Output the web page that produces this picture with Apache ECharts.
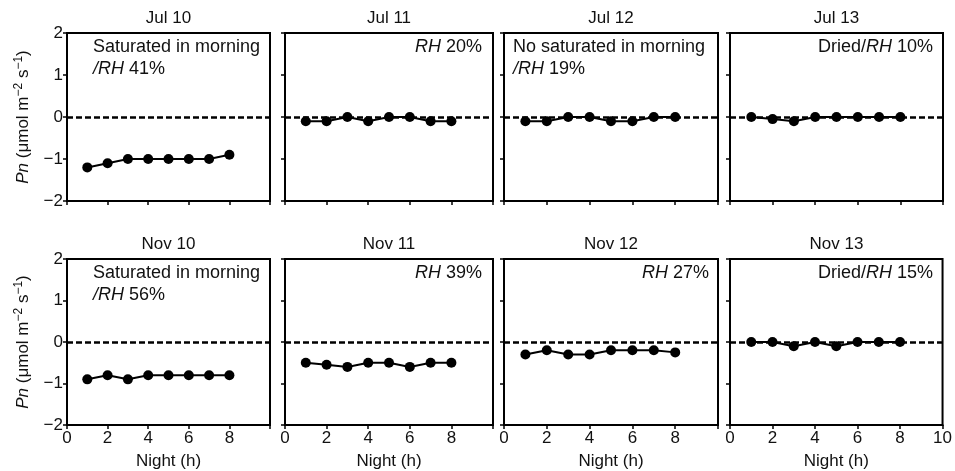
<!DOCTYPE html>
<html><head><meta charset="utf-8">
<script src="https://cdn.jsdelivr.net/npm/echarts@6/dist/echarts.min.js"></script>
<style>html,body{margin:0;padding:0;background:#fff}#c{width:955px;height:471px}</style>
</head><body><div id="c"></div>
<script>
const nights = [1, 2, 3, 4, 5, 6, 7, 8];
const panelTitles = ['Jul 10', 'Jul 11', 'Jul 12', 'Jul 13', 'Nov 10', 'Nov 11', 'Nov 12', 'Nov 13'];
const jul10 = [-1.2, -1.1, -1.0, -1.0, -1.0, -1.0, -1.0, -0.9];
const jul11 = [-0.1, -0.1, 0.0, -0.1, 0.0, 0.0, -0.1, -0.1];
const jul12 = [-0.1, -0.1, 0.0, 0.0, -0.1, -0.1, 0.0, 0.0];
const jul13 = [0.0, -0.05, -0.1, 0.0, 0.0, 0.0, 0.0, 0.0];
const nov10 = [-0.9, -0.8, -0.9, -0.8, -0.8, -0.8, -0.8, -0.8];
const nov11 = [-0.5, -0.55, -0.6, -0.5, -0.5, -0.6, -0.5, -0.5];
const nov12 = [-0.3, -0.2, -0.3, -0.3, -0.2, -0.2, -0.2, -0.25];
const nov13 = [0.0, 0.0, -0.1, 0.0, -0.1, 0.0, 0.0, 0.0];
const seriesValues = [jul10, jul11, jul12, jul13, nov10, nov11, nov12, nov13];
const yTicks = [-2, -1, 0, 1, 2];
const xTicks = [0, 2, 4, 6, 8, 10];
const notes = [
  ['Saturated in morning', '{i|/RH} 41%'],
  ['{i|RH} 20%'],
  ['No saturated in morning', '{i|/RH} 19%'],
  ['Dried/{i|RH} 10%'],
  ['Saturated in morning', '{i|/RH} 56%'],
  ['{i|RH} 39%'],
  ['{i|RH} 27%'],
  ['Dried/{i|RH} 15%']
];
const noteAlign = ['left', 'right', 'left', 'right', 'left', 'right', 'right', 'right'];

const FONT = '"Liberation Sans", Arial, sans-serif';
const TXT = '#111';
const colL = [67, 285, 504, 730];
const colW = [203, 208, 214, 213];
const rowT = [33, 259];
const rowH = [168, 166];
const noteOff = [26, 11, 9, 10];

const grids = [], xAxes = [], yAxes = [], series = [], graphics = [];
for (let k = 0; k < 8; k++) {
  const r = Math.floor(k / 4), c = k % 4;
  grids.push({left: colL[c], top: rowT[r], width: colW[c], height: rowH[r], show: true,
    borderColor: '#000', borderWidth: 2, backgroundColor: 'transparent', containLabel: false});
  xAxes.push({type: 'value', gridIndex: k, min: xTicks[0], max: xTicks[xTicks.length - 1], interval: 2,
    axisLine: {show: true, onZero: false, lineStyle: {color: '#000', width: 2}},
    axisTick: {show: true, inside: false, length: 4, lineStyle: {color: '#000', width: 1.5}},
    splitLine: {show: false},
    axisLabel: {show: r === 1, fontFamily: FONT, fontSize: 17, color: TXT, margin: 5,
      formatter: v => (v === 10 && c !== 3) ? '' : String(v)},
    name: r === 1 ? 'Night (h)' : '', nameLocation: 'middle', nameGap: 28,
    nameTextStyle: {fontFamily: FONT, fontSize: 17, color: TXT}
  });
  yAxes.push({type: 'value', gridIndex: k, min: yTicks[0], max: yTicks[yTicks.length - 1], interval: 1,
    axisLine: {show: true, lineStyle: {color: '#000', width: 2}},
    axisTick: {show: true, inside: false, length: 4, lineStyle: {color: '#000', width: 1.5}},
    splitLine: {show: false},
    axisLabel: {show: c === 0, fontFamily: FONT, fontSize: 17, color: TXT, margin: 4,
      formatter: v => String(v).replace('-', '\u2212')},
    name: c === 0 ? '{i|Pn} (\u03bcmol m{s|\u22122} s{s|\u22121})' : '',
    nameLocation: 'middle', nameRotate: 90, nameGap: 34,
    nameTextStyle: {fontFamily: FONT, fontSize: 17, color: TXT, lineHeight: 20,
      rich: {i: {fontStyle: 'italic', fontFamily: FONT, fontSize: 17, color: TXT, lineHeight: 20},
             s: {fontFamily: FONT, fontSize: 12, color: TXT, verticalAlign: 'top', lineHeight: 20}}}
  });
  series.push({type: 'line', xAxisIndex: k, yAxisIndex: k,
    data: nights.map((n, i) => [n, seriesValues[k][i]]),
    symbol: 'circle', symbolSize: 10, lineStyle: {color: '#000', width: 2},
    itemStyle: {color: '#000'}, z: 3, animation: false,
    markLine: {silent: true, symbol: 'none', label: {show: false}, animation: false,
      lineStyle: {color: '#000', width: 2.5, type: [6, 3]}, data: [{yAxis: 0}]}
  });
  graphics.push({type: 'text', x: colL[c] + colW[c] / 2, y: rowT[r] - 23,
    style: {text: panelTitles[k], fontFamily: FONT, fontSize: 17, fill: TXT, align: 'center', verticalAlign: 'top'}});
  notes[k].forEach((t, li) => {
    const off = (c === 0) ? noteOff[0] : noteOff[c];
    const x = noteAlign[k] === 'left' ? colL[c] + off : colL[c] + colW[c] - off;
    graphics.push({type: 'text', x: x, y: rowT[r] + 5 + li * 22,
      style: {text: t, fontFamily: FONT, fontSize: 18, fill: TXT, align: noteAlign[k], verticalAlign: 'top',
        rich: {i: {fontStyle: 'italic', fontFamily: FONT, fontSize: 18, fill: TXT}}}});
  });
}

const chart = echarts.init(document.getElementById('c'), null, {renderer: 'canvas'});
chart.setOption({animation: false, backgroundColor: '#fff', grid: grids, xAxis: xAxes, yAxis: yAxes,
  series: series, graphic: graphics});
</script></body></html>
